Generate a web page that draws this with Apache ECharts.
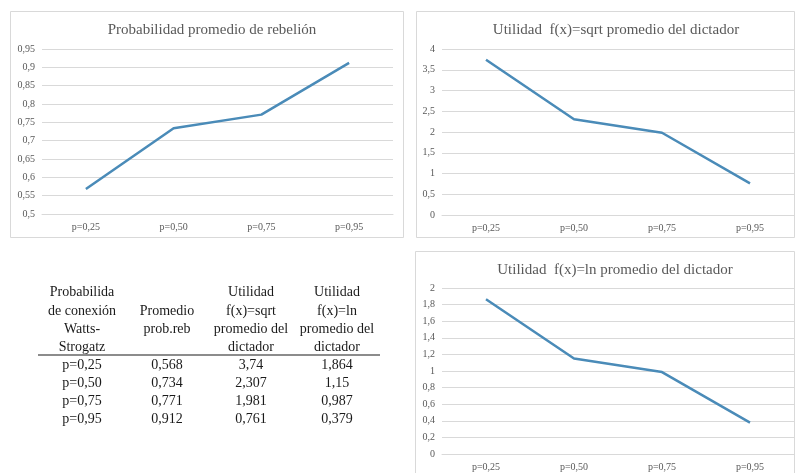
<!DOCTYPE html>
<html>
<head>
<meta charset="utf-8">
<script src="https://cdn.jsdelivr.net/npm/echarts@6/dist/echarts.min.js"></script>
<style>
html,body{margin:0;padding:0;background:#fff;}
#c{width:795px;height:473px;}
</style>
</head>
<body>
<div id="c"></div>
<script>
var categories = ['p=0,25', 'p=0,50', 'p=0,75', 'p=0,95'];
var promedioRebelion = [0.568, 0.734, 0.771, 0.912];
var utilidadSqrt = [3.74, 2.307, 1.981, 0.761];
var utilidadLn = [1.864, 1.15, 0.987, 0.379];
var titles = ['Probabilidad promedio de rebelión', 'Utilidad  f(x)=sqrt promedio del dictador', 'Utilidad  f(x)=ln promedio del dictador'];
var tableHeaders = [
  ['Probabilida', 'de conexión', 'Watts-', 'Strogatz'],
  ['', 'Promedio', 'prob.reb', ''],
  ['Utilidad', 'f(x)=sqrt', 'promedio del', 'dictador'],
  ['Utilidad', 'f(x)=ln', 'promedio del', 'dictador']
];

var SERIF = '"Liberation Serif", "Times New Roman", "DejaVu Serif", serif';
var GREY = '#595959';
var LINE = '#d9d9d9';
var BLUE = '#4a8bb8';

function fmt(v) { return String(Number(v.toFixed(3))).replace('.', ','); }

function xAxis(gi) {
  return {
    type: 'category', gridIndex: gi, data: categories, boundaryGap: true,
    axisLine: { show: true, lineStyle: { color: LINE, width: 1 } },
    axisTick: { show: false },
    axisLabel: { fontFamily: SERIF, fontSize: 10, color: GREY, margin: 8 }
  };
}
function yAxis(gi, min, max, interval) {
  return {
    type: 'value', gridIndex: gi, min: min, max: max, interval: interval,
    axisLine: { show: false }, axisTick: { show: false },
    splitLine: { lineStyle: { color: LINE, width: 1 } },
    axisLabel: { fontFamily: SERIF, fontSize: 10, color: GREY, margin: 7, formatter: fmt }
  };
}
function series(gi, data) {
  return {
    type: 'line', xAxisIndex: gi, yAxisIndex: gi, data: data,
    symbol: 'none', lineStyle: { color: BLUE, width: 2.5 }, itemStyle: { color: BLUE },
    animation: false
  };
}

// table graphics
var colX = [82, 167, 251, 337];
var headerY = [292, 311, 329, 347];
var rowY = [365, 383, 401, 419];
var tableCols = [categories, promedioRebelion.map(fmt), utilidadSqrt.map(fmt), utilidadLn.map(fmt)];
var graphics = [
  { type: 'rect', shape: { x: 10.5, y: 11.5, width: 393, height: 226 }, style: { fill: 'none', stroke: LINE, lineWidth: 1 }, silent: true },
  { type: 'rect', shape: { x: 416.5, y: 11.5, width: 378, height: 226 }, style: { fill: 'none', stroke: LINE, lineWidth: 1 }, silent: true },
  { type: 'rect', shape: { x: 415.5, y: 251.5, width: 379, height: 230 }, style: { fill: 'none', stroke: LINE, lineWidth: 1 }, silent: true },
  { type: 'line', shape: { x1: 38, y1: 355, x2: 380, y2: 355 }, style: { stroke: '#8c8c8c', lineWidth: 2 }, silent: true }
];
tableHeaders.forEach(function (col, ci) {
  col.forEach(function (t, ri) {
    if (!t) return;
    graphics.push({ type: 'text', x: colX[ci], y: headerY[ri], silent: true,
      style: { text: t, fill: '#1a1a1a', font: '14px ' + SERIF, textAlign: 'center', textVerticalAlign: 'middle' } });
  });
});
tableCols.forEach(function (col, ci) {
  col.forEach(function (t, ri) {
    graphics.push({ type: 'text', x: colX[ci], y: rowY[ri], silent: true,
      style: { text: t, fill: '#1a1a1a', font: '14px ' + SERIF, textAlign: 'center', textVerticalAlign: 'middle' } });
  });
});

var chart = echarts.init(document.getElementById('c'), null, { renderer: 'canvas' });
chart.setOption({
  backgroundColor: '#fff',
  animation: false,
  title: [
    { text: titles[0], left: 207, top: 18, textAlign: 'center', textStyle: { fontFamily: SERIF, fontSize: 15, fontWeight: 'normal', color: GREY } },
    { text: titles[1], left: 611, top: 18, textAlign: 'center', textStyle: { fontFamily: SERIF, fontSize: 15, fontWeight: 'normal', color: GREY } },
    { text: titles[2], left: 610, top: 258, textAlign: 'center', textStyle: { fontFamily: SERIF, fontSize: 15, fontWeight: 'normal', color: GREY } }
  ],
  grid: [
    { left: 42, top: 49, width: 351, height: 165 },
    { left: 442, top: 49, width: 352, height: 166 },
    { left: 442, top: 288, width: 352, height: 166 }
  ],
  xAxis: [xAxis(0), xAxis(1), xAxis(2)],
  yAxis: [yAxis(0, 0.5, 0.95, 0.05), yAxis(1, 0, 4, 0.5), yAxis(2, 0, 2, 0.2)],
  series: [series(0, promedioRebelion), series(1, utilidadSqrt), series(2, utilidadLn)],
  graphic: graphics
});
</script>
</body>
</html>
